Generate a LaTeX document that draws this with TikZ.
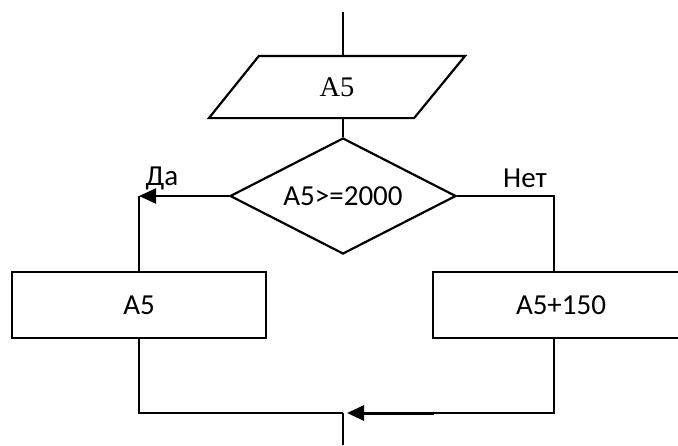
\documentclass[tikz,border=0pt]{standalone}
\usepackage{fontspec}
\setmainfont{Carlito}
\newfontfamily\timesfont{Liberation Serif}
\usetikzlibrary{shapes.geometric,arrows.meta}

\begin{document}
\begin{tikzpicture}[x=0.5pt,y=-0.5pt,line width=1.1pt,
  every node/.style={font=\fontsize{14.5}{17}\selectfont},
  blk/.style={draw,rectangle,minimum height=33pt},
  cond/.style={draw,diamond,aspect=1.95,minimum width=113pt,minimum height=58pt,inner sep=0pt},
  io/.style={minimum width=127pt,minimum height=30pt,font=\timesfont\fontsize{14.2}{17}\selectfont},
  arr/.style={-{Triangle[length=8.5pt,width=7.5pt]}}]
\useasboundingbox (0,0) rectangle (678,445);
\clip (0,0) rectangle (678,445);
\coordinate (top) at (343,12);
\node[io] (in) at (337,87) {A5};
\draw (in.south west) -- ([xshift=25pt]in.north west) -- (in.north east)
  -- ([xshift=-25.5pt]in.south east) -- cycle;
\node[cond] (c) at (343,196) {A5>=2000};
\node (da) at (162,178) {Да};
\node (net) at (525,178) {Нет};
\node[blk,minimum width=127pt] (y) at (139,305) {A5};
\node[blk,minimum width=128pt] (n) at (561,305) {A5+150};
\coordinate (m) at (343,413);
\coordinate (nr) at (434,413);
\coordinate (end) at (343,445);
% top part
\draw (top) -- (top |- in.north);
\draw (c.north |- in.south) -- (c.north);
% branches
\draw[arr] (c.west) -- (c.west -| y.north) coordinate (yl);
\draw (yl) -- (y.north);
\draw (c.east) -| ([xshift=-3.5pt]n.north);
% merge
\draw (y.south) |- (m);
\draw ([xshift=-3.5pt]n.south) |- (nr);
\draw[arr,line width=1.5pt] (nr) -- ([xshift=2pt]m);
\draw (m) -- (end);
\end{tikzpicture}
\end{document}
